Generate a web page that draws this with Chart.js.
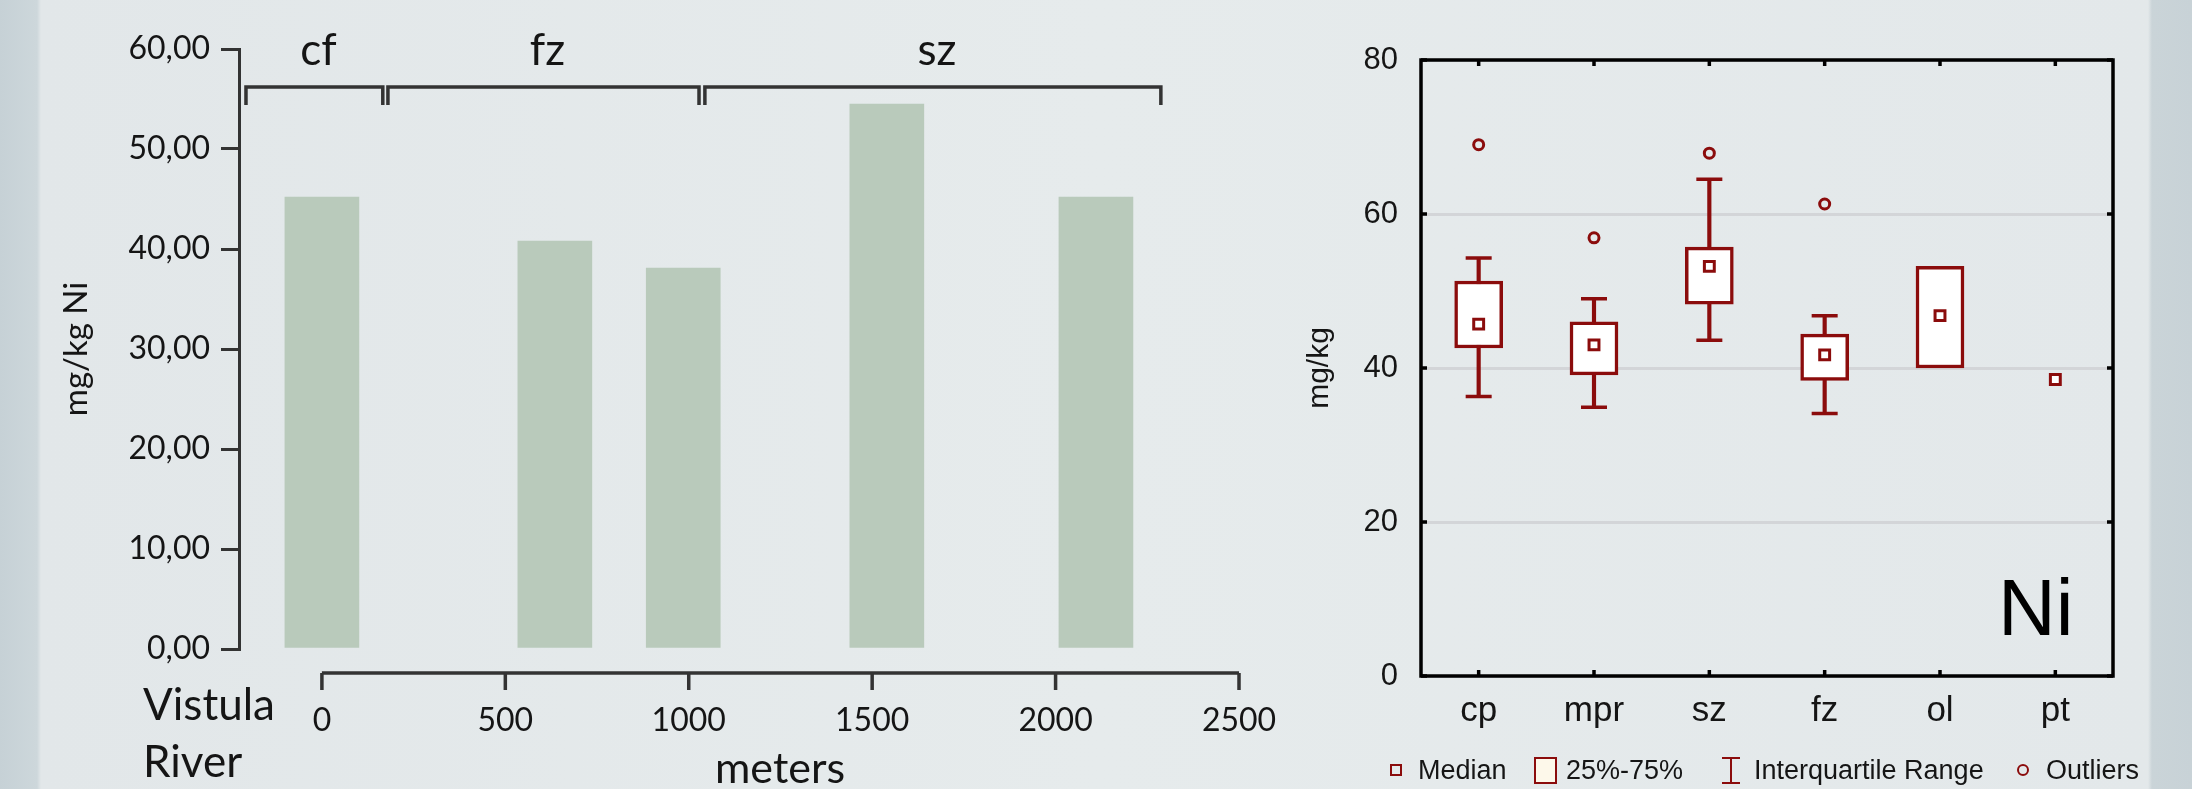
<!DOCTYPE html>
<html>
<head>
<meta charset="utf-8">
<script src="https://cdn.jsdelivr.net/npm/chart.js@4.4.1/dist/chart.umd.min.js"></script>
<style>
html, body { margin:0; padding:0; }
body {
  width:2192px; height:789px; overflow:hidden; position:relative;
  background: linear-gradient(to right, #c6d1d6 0px, #cdd7db 37px, #e2e7e9 41px, #e6ebec 1100px, #e3e8ea 2148px, #cad4d8 2152px, #c8d2d7 2192px);
}
#left { position:absolute; left:0; top:0; }
#right { position:absolute; left:1300px; top:0; }
</style>
</head>
<body>
<canvas id="left" width="1300" height="789"></canvas>
<canvas id="right" width="892" height="789"></canvas>
<script>
// left: Ni along the transect from the river
var distance = [0, 635, 985, 1540, 2110];
var niValues = [45.2, 40.8, 38.1, 54.5, 45.2];
var meterTicks = [0, 500, 1000, 1500, 2000, 2500];
var zoneNames = ['cf', 'fz', 'sz'];
var zoneFrom = [-207, 180, 1044];
var zoneTo = [166, 1028, 2287];

// right: box plot per zone
var zones = ['cp', 'mpr', 'sz', 'fz', 'ol', 'pt'];
var medians = [45.7, 43.0, 53.2, 41.7, 46.8, 38.5];
var q1 = [42.6, 39.1, 48.3, 38.4, 40.0, null];
var q3 = [51.3, 46.0, 55.7, 44.4, 53.2, null];
var whiskerLow = [36.3, 34.9, 43.6, 34.1, null, null];
var whiskerHigh = [54.3, 49.0, 64.5, 46.8, null, null];
var outliers = [69.0, 56.9, 67.9, 61.3, null, null];
var legendLabels = ['Median', '25%-75%', 'Interquartile Range', 'Outliers'];

var dark = '#8b0c0c';
var ink = '#151515';
var arial = "'Liberation Sans', Arial, sans-serif";

var leftDecor = {
  id: 'leftDecor',
  afterDraw: function(chart) {
    var ctx = chart.ctx, x = chart.scales.x, y = chart.scales.y;
    ctx.save();
    ctx.strokeStyle = '#333';
    ctx.lineWidth = 3.5;
    ctx.lineJoin = 'miter';

    // distance axis, a bit below zero
    var ay = y.getPixelForValue(0) + 24;
    ctx.beginPath();
    ctx.moveTo(x.getPixelForValue(meterTicks[0]), ay);
    ctx.lineTo(x.getPixelForValue(meterTicks[meterTicks.length - 1]), ay);
    ctx.stroke();
    ctx.beginPath();
    meterTicks.forEach(function(v) {
      var px = x.getPixelForValue(v);
      ctx.moveTo(px, ay);
      ctx.lineTo(px, ay + 17);
    });
    ctx.stroke();

    // zone brackets
    var top = y.getPixelForValue(56.2), low = y.getPixelForValue(54.4);
    ctx.fillStyle = ink;
    ctx.font = '44px Lato';
    ctx.textAlign = 'center';
    zoneNames.forEach(function(name, i) {
      var a = x.getPixelForValue(zoneFrom[i]), b = x.getPixelForValue(zoneTo[i]);
      ctx.beginPath();
      ctx.moveTo(a, low);
      ctx.lineTo(a, top);
      ctx.lineTo(b, top);
      ctx.lineTo(b, low);
      ctx.stroke();
      ctx.fillText(name, (a + b) / 2 + 4, y.getPixelForValue(60) + 16);
    });

    ctx.textAlign = 'left';
    ctx.font = '44px Lato';
    ctx.fillText('Vistula', 143, 720);
    ctx.fillText('River', 143, 777);
    ctx.font = '43px Lato';
    ctx.fillText('meters', 715, 783);
    ctx.restore();
  }
};

new Chart(document.getElementById('left'), {
  type: 'bar',
  data: {
    datasets: [{
      data: distance.map(function(d, i) { return {x: d, y: niValues[i]}; }),
      backgroundColor: '#b9cabb',
      barThickness: 74
    }]
  },
  options: {
    responsive: false,
    animation: false,
    layout: {padding: {top: 49, right: 61, left: 0, bottom: 0}},
    plugins: {legend: {display: false}, tooltip: {enabled: false}},
    scales: {
      x: {
        type: 'linear', min: -226, max: 2500, offset: false,
        grid: {display: false, drawTicks: false},
        border: {display: false},
        afterBuildTicks: function(s) { s.ticks = meterTicks.map(function(v) { return {value: v}; }); },
        afterFit: function(s) { s.height = 140; s.paddingLeft = 0; s.paddingRight = 0; },
        ticks: {
          padding: 52, color: ink, maxRotation: 0, autoSkip: false,
          font: {family: 'Lato', size: 32},
          callback: function(v) { return String(v); }
        }
      },
      y: {
        min: 0, max: 60,
        ticks: {
          stepSize: 10, padding: 11, color: ink,
          font: {family: 'Lato', size: 32},
          callback: function(v) { return v.toFixed(2).replace('.', ','); }
        },
        grid: {drawOnChartArea: false, drawTicks: true, tickLength: 18, color: '#333', lineWidth: 3},
        border: {display: true, color: '#333', width: 3},
        title: {display: true, text: 'mg/kg Ni', color: ink, font: {family: 'Lato', size: 33}, padding: {top: 57, bottom: 0}},
        afterFit: function(s) { s.width = 239; s.paddingTop = 0; s.paddingBottom = 0; }
      }
    }
  },
  plugins: [leftDecor]
});

var rightDecor = {
  id: 'rightDecor',
  afterDraw: function(chart) {
    var ctx = chart.ctx, a = chart.chartArea, x = chart.scales.x, y = chart.scales.y;
    ctx.save();
    ctx.strokeStyle = '#000';
    ctx.lineWidth = 3.5;
    ctx.strokeRect(a.left, a.top, a.right - a.left, a.bottom - a.top);
    ctx.beginPath();
    zones.forEach(function(z, i) {
      var px = x.getPixelForValue(i);
      ctx.moveTo(px, a.top); ctx.lineTo(px, a.top + 6);
      ctx.moveTo(px, a.bottom); ctx.lineTo(px, a.bottom - 6);
    });
    y.ticks.forEach(function(t) {
      var py = y.getPixelForValue(t.value);
      ctx.moveTo(a.left, py); ctx.lineTo(a.left + 6, py);
      ctx.moveTo(a.right, py); ctx.lineTo(a.right - 6, py);
    });
    ctx.stroke();

    ctx.fillStyle = '#000';
    ctx.font = '80px ' + arial;
    ctx.fillText('Ni', 698, 635);

    // legend
    var ly = 770;
    ctx.lineWidth = 2;
    ctx.strokeStyle = dark;
    ctx.strokeRect(91, ly - 5, 10, 10);
    ctx.fillStyle = '#fdf8ea';
    ctx.fillRect(235, 758, 21, 25);
    ctx.strokeRect(235, 758, 21, 25);
    ctx.beginPath();
    ctx.moveTo(431, 758); ctx.lineTo(431, 783);
    ctx.moveTo(422, 758); ctx.lineTo(440, 758);
    ctx.moveTo(422, 783); ctx.lineTo(440, 783);
    ctx.stroke();
    ctx.beginPath();
    ctx.arc(723, ly, 5, 0, Math.PI * 2);
    ctx.stroke();

    ctx.fillStyle = ink;
    ctx.font = '27px ' + arial;
    var lx = [118, 266, 454, 746];
    legendLabels.forEach(function(t, i) { ctx.fillText(t, lx[i], 779); });
    ctx.restore();
  }
};

new Chart(document.getElementById('right'), {
  type: 'bar',
  data: {
    labels: zones,
    datasets: [
      {
        type: 'bar', order: 5, grouped: false,
        data: zones.map(function(z, i) { return whiskerLow[i] == null ? null : [whiskerLow[i], whiskerHigh[i]]; }),
        backgroundColor: dark, barThickness: 3.5
      },
      {
        type: 'bar', order: 4, grouped: false,
        data: zones.map(function(z, i) { return q1[i] == null ? null : [q1[i], q3[i]]; }),
        backgroundColor: '#ffffff', borderColor: dark, borderWidth: 3.5, borderSkipped: false, barThickness: 48
      },
      {
        type: 'line', order: 3, data: whiskerLow, showLine: false,
        pointStyle: 'line', pointRadius: 13, pointBorderColor: dark, pointBorderWidth: 3.5
      },
      {
        type: 'line', order: 3, data: whiskerHigh, showLine: false,
        pointStyle: 'line', pointRadius: 13, pointBorderColor: dark, pointBorderWidth: 3.5
      },
      {
        type: 'line', order: 2, data: medians, showLine: false,
        pointStyle: 'rect', pointRadius: 7, pointBackgroundColor: '#ffffff', pointBorderColor: dark, pointBorderWidth: 3
      },
      {
        type: 'line', order: 1, data: outliers, showLine: false,
        pointStyle: 'circle', pointRadius: 5, pointBackgroundColor: 'rgba(0,0,0,0)', pointBorderColor: dark, pointBorderWidth: 3
      }
    ]
  },
  options: {
    responsive: false,
    animation: false,
    layout: {padding: {top: 60, right: 79, left: 0, bottom: 0}},
    plugins: {legend: {display: false}, tooltip: {enabled: false}},
    scales: {
      x: {
        grid: {display: false, drawTicks: false},
        border: {display: false},
        ticks: {padding: 14, color: ink, font: {family: arial, size: 35}},
        afterFit: function(s) { s.height = 113; s.paddingLeft = 0; s.paddingRight = 0; }
      },
      y: {
        min: 0, max: 80,
        ticks: {stepSize: 20, padding: 23, color: ink, font: {family: arial, size: 31}},
        grid: {color: '#d3d5d8', lineWidth: 3, drawTicks: false},
        border: {display: false},
        title: {display: true, text: 'mg/kg', color: ink, font: {family: arial, size: 30}, padding: {top: 2, bottom: 0}},
        afterFit: function(s) { s.width = 121; s.paddingTop = 0; s.paddingBottom = 0; }
      }
    }
  },
  plugins: [rightDecor]
});
</script>
</body>
</html>
